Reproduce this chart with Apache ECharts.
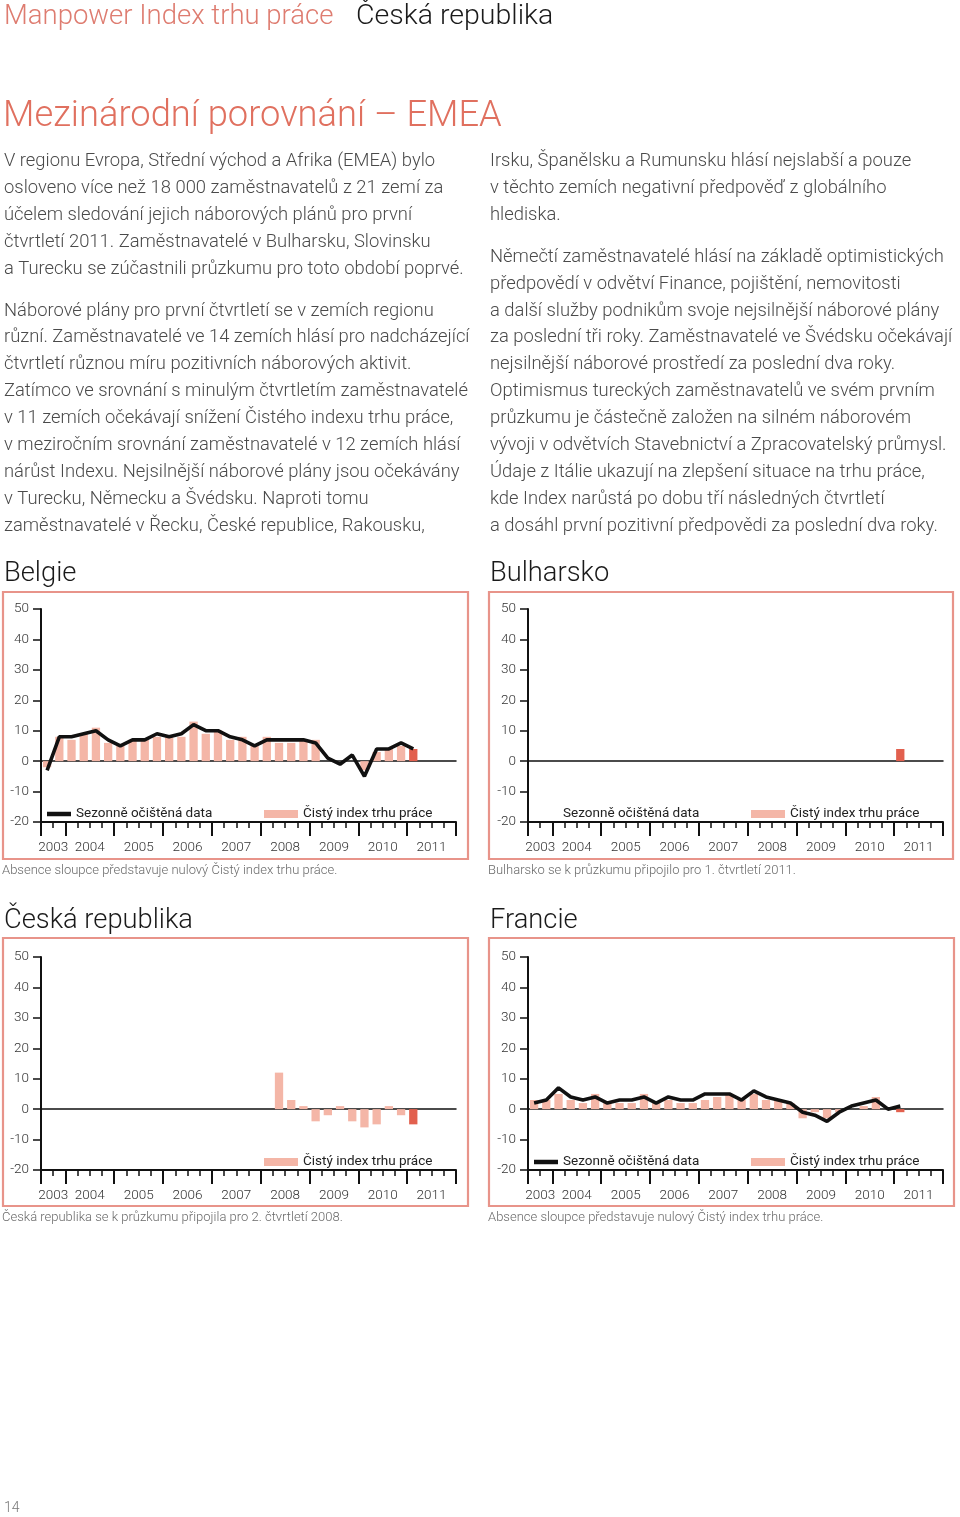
<!DOCTYPE html>
<html><head><meta charset="utf-8">
<script src="https://cdn.jsdelivr.net/npm/echarts@6/dist/echarts.min.js"></script>
<style>html,body{margin:0;padding:0;background:#fff}#page{width:960px;height:1517px}</style>
</head><body><div id="page"></div>
<script>
// ---------- DATA ----------
const quarters = ['2003 Q3','2003 Q4',
  '2004 Q1','2004 Q2','2004 Q3','2004 Q4','2005 Q1','2005 Q2','2005 Q3','2005 Q4',
  '2006 Q1','2006 Q2','2006 Q3','2006 Q4','2007 Q1','2007 Q2','2007 Q3','2007 Q4',
  '2008 Q1','2008 Q2','2008 Q3','2008 Q4','2009 Q1','2009 Q2','2009 Q3','2009 Q4',
  '2010 Q1','2010 Q2','2010 Q3','2010 Q4','2011 Q1','2011 Q2','2011 Q3','2011 Q4'];
const yTickMin = -20, yTickMax = 50, yTickStep = 10;

const belgieIndex    = [-2, 8, 7, 9, 11, 6, 5, 7, 7, 8, 8, 8, 13, 9, 10, 7, 8, 5, 8, 6, 6, 7, 7, 0, 0, 0, -3, 3, 4, 5, 4];
const belgieSeasonal = [-3, 8, 8, 9, 10, 7, 5, 7, 7, 9, 8, 9, 12, 10, 10, 8, 7, 5, 7, 7, 7, 7, 6, 1, -1, 2, -5, 4, 4, 6, 4];

const bulharskoIndex = [null,null,null,null,null,null,null,null,null,null,null,null,null,null,null,null,
  null,null,null,null,null,null,null,null,null,null,null,null,null,null, 4];

const ceskoIndex = [null,null,null,null,null,null,null,null,null,null,null,null,null,null,null,null,null,null,null,
  12, 3, 1, -4, -2, 1, -4, -6, -5, 1, -2, -5];

const francieIndex    = [3, 3, 5, 3, 2, 5, 2, 2, 2, 5, 2, 3, 2, 2, 3, 4, 5, 3, 5, 3, 3, 2, -3, -1, -3, -1, 0, 1, 4, 0, -1];
const francieSeasonal = [2, 3, 7, 4, 3, 4, 2, 3, 3, 4, 2, 4, 3, 3, 5, 5, 5, 3, 6, 4, 3, 2, -1, -2, -4, -1, 1, 2, 3, 0, 1];

const NAME_LINE = 'Sezonně očištěná data';
const NAME_BAR = 'Čistý index trhu práce';

// ---------- TEXT ----------
const headerLeft = 'Manpower Index trhu práce';
const headerRight = 'Česká republika';
const pageTitle = 'Mezinárodní porovnání – EMEA';
const leftParas = [
 ['V regionu Evropa, Střední východ a Afrika (EMEA) bylo',
  'osloveno více než 18 000 zaměstnavatelů z 21 zemí za',
  'účelem sledování jejich náborových plánů pro první',
  'čtvrtletí 2011. Zaměstnavatelé v Bulharsku, Slovinsku',
  'a Turecku se zúčastnili průzkumu pro toto období poprvé.'],
 ['Náborové plány pro první čtvrtletí se v zemích regionu',
  'různí. Zaměstnavatelé ve 14 zemích hlásí pro nadcházející',
  'čtvrtletí různou míru pozitivních náborových aktivit.',
  'Zatímco ve srovnání s minulým čtvrtletím zaměstnavatelé',
  'v 11 zemích očekávají snížení Čistého indexu trhu práce,',
  'v meziročním srovnání zaměstnavatelé v 12 zemích hlásí',
  'nárůst Indexu. Nejsilnější náborové plány jsou očekávány',
  'v Turecku, Německu a Švédsku. Naproti tomu',
  'zaměstnavatelé v Řecku, České republice, Rakousku,']
];
const rightParas = [
 ['Irsku, Španělsku a Rumunsku hlásí nejslabší a pouze',
  'v těchto zemích negativní předpověď z globálního',
  'hlediska.'],
 ['Němečtí zaměstnavatelé hlásí na základě optimistických',
  'předpovědí v odvětví Finance, pojištění, nemovitosti',
  'a další služby podnikům svoje nejsilnější náborové plány',
  'za poslední tři roky. Zaměstnavatelé ve Švédsku očekávají',
  'nejsilnější náborové prostředí za poslední dva roky.',
  'Optimismus tureckých zaměstnavatelů ve svém prvním',
  'průzkumu je částečně založen na silném náborovém',
  'vývoji v odvětvích Stavebnictví a Zpracovatelský průmysl.',
  'Údaje z Itálie ukazují na zlepšení situace na trhu práce,',
  'kde Index narůstá po dobu tří následných čtvrtletí',
  'a dosáhl první pozitivní předpovědi za poslední dva roky.']
];
const noteZero = 'Absence sloupce představuje nulový Čistý index trhu práce.';
const noteBg = 'Bulharsko se k průzkumu připojilo pro 1. čtvrtletí 2011.';
const noteCz = 'Česká republika se k průzkumu připojila pro 2. čtvrtletí 2008.';
const pageNumber = '14';

// ---------- STYLE ----------
const FONT = "Roboto, 'Liberation Sans', sans-serif";
const C_LIGHT = '#f4b6a7', C_DARK = '#e2604e', C_FRAME = '#e8948a', C_AX = '#111';

// boundaries of quarter bands (35), year starts and year centers derived from quarters
const years = [];
quarters.forEach((q, i) => { const y = q.slice(0, 4); let e = years.find(o => o.y === y); if (!e) { e = {y, start: i, n: 0}; years.push(e); } e.n++; });
const boundaries = Array.from({length: quarters.length + 1}, (_, i) => 'b' + i);
const yearStartSet = new Set(years.map(o => o.start).concat([quarters.length]));
const yearCenterLabel = {};
years.forEach(o => { yearCenterLabel[o.start + o.n / 2] = o.y; });

const panels = [
  {title: 'Belgie', tx: 4, ty: 574, frame: [3, 592, 465, 267], grid: [41, 609], bars: belgieIndex, line: belgieSeasonal, legendLine: 'show', note: noteZero, nx: 2, ny: 871},
  {title: 'Bulharsko', tx: 490, ty: 574, frame: [489, 592, 464, 267], grid: [528, 609], bars: bulharskoIndex, line: null, legendLine: 'text', note: noteBg, nx: 488, ny: 871},
  {title: 'Česká republika', tx: 4, ty: 921, frame: [3, 938, 465, 268], grid: [41, 957], bars: ceskoIndex, line: null, legendLine: 'none', note: noteCz, nx: 2, ny: 1218},
  {title: 'Francie', tx: 490, ty: 921, frame: [489, 938, 465, 268], grid: [528, 957], bars: francieIndex, line: francieSeasonal, legendLine: 'show', note: noteZero, nx: 488, ny: 1218}
];
const GW = 415, GH = 213;

const grid = [], xAxis = [], yAxis = [], series = [], legend = [], graphic = [];

function txt(text, x, y, size, fill, weight) {
  graphic.push({type: 'text', x, y, silent: true, style: {text, fontSize: size, fontFamily: FONT, fontWeight: weight || 300, fill, verticalAlign: 'middle', align: 'left'}});
}

txt(headerLeft, 4, 17, 27.5, '#de7c70');
txt(headerRight, 356, 17, 28.5, '#1a1a1a');
txt(pageTitle, 3, 117, 36.3, '#e0705f');
function paras(list, x, y0) {
  let y = y0;
  list.forEach((p, pi) => {
    if (pi > 0) y += 15;
    p.forEach(line => { txt(line, x, y, 18.4, '#4a4a4a'); y += 26.9; });
  });
}
paras(leftParas, 4, 161.5);
paras(rightParas, 490, 161.5);
txt(pageNumber, 4, 1508, 14, '#777');

panels.forEach((p, g) => {
  txt(p.title, p.tx, p.ty, 27.3, '#1a1a1a');
  txt(p.note, p.nx, p.ny, 13, '#6a6a6a');
  graphic.push({type: 'rect', silent: true, z: -10, shape: {x: p.frame[0], y: p.frame[1], width: p.frame[2], height: p.frame[3]},
    style: {fill: 'none', stroke: C_FRAME, lineWidth: 2.2}});

  grid.push({left: p.grid[0], top: p.grid[1], width: GW, height: GH, containLabel: false});
  yAxis.push({gridIndex: g, type: 'value', min: yTickMin, max: yTickMax, interval: yTickStep,
    axisLine: {show: true, onZero: false, lineStyle: {color: C_AX, width: 2}},
    axisTick: {show: true, length: 8, lineStyle: {color: C_AX, width: 1.5}},
    axisLabel: {margin: 12, fontSize: 13.5, color: '#333', fontFamily: FONT, fontWeight: 300},
    splitLine: {show: false}});
  // data axis (also draws the zero line)
  xAxis.push({gridIndex: g, type: 'category', data: quarters, boundaryGap: true,
    axisLine: {show: true, onZero: true, lineStyle: {color: C_AX, width: 1.5}},
    axisTick: {show: false}, axisLabel: {show: false}});
  // quarter ticks
  xAxis.push({gridIndex: g, type: 'category', data: boundaries, boundaryGap: false, position: 'bottom',
    axisLine: {show: true, onZero: false, lineStyle: {color: C_AX, width: 2}},
    axisTick: {show: true, interval: 0, length: 6, lineStyle: {color: C_AX, width: 1.5}},
    axisLabel: {show: false}});
  // year ticks + labels
  xAxis.push({gridIndex: g, type: 'category', data: boundaries, boundaryGap: false, position: 'bottom',
    axisLine: {show: false, onZero: false},
    axisTick: {show: true, interval: (i) => yearStartSet.has(i), length: 14, lineStyle: {color: C_AX, width: 2}},
    axisLabel: {interval: 0, margin: 19, fontSize: 13.5, color: '#333', fontFamily: FONT, fontWeight: 300,
      formatter: (v, i) => yearCenterLabel[i] || ''}});

  const last = p.bars.length - 1;
  series.push({type: 'bar', name: NAME_BAR, xAxisIndex: 3 * g, yAxisIndex: g, barWidth: '68%', silent: true,
    itemStyle: {color: C_LIGHT},
    data: p.bars.map((v, i) => i === last ? {value: v, itemStyle: {color: C_DARK}} : v)});
  series.push({type: 'line', name: NAME_LINE, xAxisIndex: 3 * g, yAxisIndex: g, silent: true,
    symbol: 'none', showSymbol: false, z: 4,
    lineStyle: {color: C_AX, width: 3.6}, itemStyle: {color: C_AX},
    data: p.line || []});

  const lt = p.grid[1] + 203;
  const ltext = {fontSize: 13.5, color: '#222', fontFamily: FONT, fontWeight: 400};
  if (p.legendLine !== 'none') {
    legend.push({left: p.grid[0] + 6, top: lt, padding: 0, selectedMode: false, itemWidth: 24, itemHeight: 4.5,
      textStyle: ltext,
      data: [{name: NAME_LINE, icon: 'rect', itemStyle: {color: p.legendLine === 'show' ? C_AX : 'rgba(0,0,0,0)'}}]});
  }
  legend.push({left: p.grid[0] + 223, top: lt, padding: 0, selectedMode: false, itemWidth: 34, itemHeight: 8,
    textStyle: ltext,
    data: [{name: NAME_BAR, icon: 'rect', itemStyle: {color: C_LIGHT}}]});
});

// center legends vertically on the row (shift by half of their height)
legend.forEach(l => { l.top = l.top - 5; });

const chart = echarts.init(document.getElementById('page'), null, {renderer: 'canvas'});
chart.setOption({animation: false, backgroundColor: '#fff', grid, xAxis, yAxis, series, legend, graphic});
</script></body></html>
